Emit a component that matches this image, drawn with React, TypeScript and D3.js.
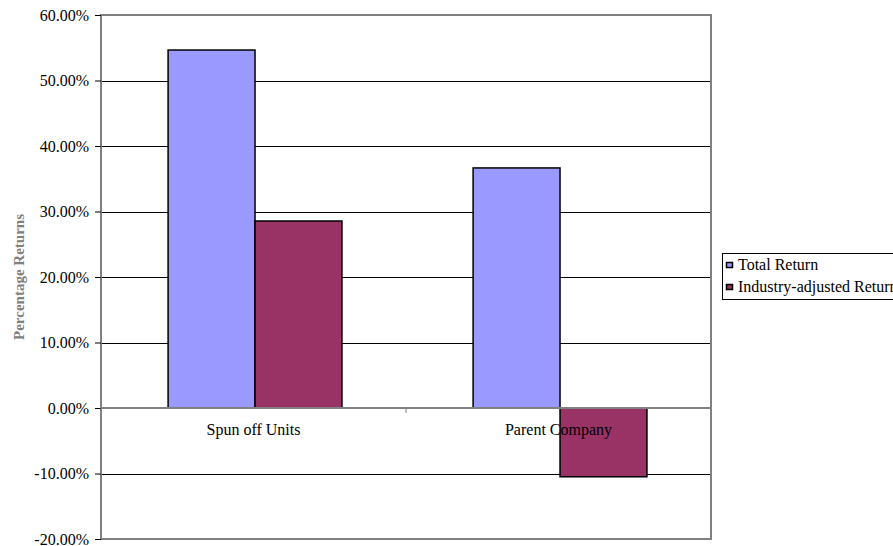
import { useRef, useEffect } from 'react';
import * as d3 from 'd3';

const categories = ['Spun off Units', 'Parent Company'];
const seriesNames = ['Total Return', 'Industry-adjusted Return'];
const totalReturn = [0.5465, 0.3665];
const industryAdjusted = [0.2855, -0.105];
const yTicks = [-0.2, -0.1, 0, 0.1, 0.2, 0.3, 0.4, 0.5, 0.6];
const colors = ['#9999FF', '#993366'];

const FONT = "'Liberation Serif', 'Times New Roman', Times, 'DejaVu Serif', serif";

export default function App() {
  const svgRef = useRef<SVGSVGElement>(null);

  useEffect(() => {
    if (!svgRef.current) return;
    const svg = d3.select(svgRef.current);
    svg.selectAll('*').remove();

    const width = 893;
    const height = 546;
    const margin = { top: 15, right: 182, bottom: 7, left: 101 };
    const w = width - margin.left - margin.right;
    const h = height - margin.top - margin.bottom;

    const g = svg.append('g').attr('transform', `translate(${margin.left},${margin.top})`);

    const x0 = d3.scaleBand().domain(categories).range([0, w]);
    const x1 = d3.scaleBand().domain(seriesNames).range([x0.bandwidth() * 0.22, x0.bandwidth() * 0.79]);
    const y = d3.scaleLinear().domain([-0.2, 0.6]).range([h, 0]);

    // gridlines
    g.append('g')
      .selectAll('line')
      .data(yTicks.filter((t) => t !== 0.6 && t !== -0.2))
      .join('line')
      .attr('x1', 0)
      .attr('x2', w)
      .attr('y1', (d) => Math.round(y(d)) + 0.5)
      .attr('y2', (d) => Math.round(y(d)) + 0.5)
      .attr('stroke', '#000')
      .attr('stroke-width', 1);

    // plot border
    g.append('rect')
      .attr('x', 0)
      .attr('y', 0)
      .attr('width', w)
      .attr('height', h)
      .attr('fill', 'none')
      .attr('stroke', '#808080')
      .attr('stroke-width', 2);

    const rows = categories.map((c, i) => ({ c, vals: [totalReturn[i], industryAdjusted[i]] }));

    g.append('g')
      .selectAll('g')
      .data(rows)
      .join('g')
      .attr('transform', (d) => `translate(${x0(d.c)},0)`)
      .selectAll('rect')
      .data((d) => d.vals.map((v, k) => ({ v, k })))
      .join('rect')
      .attr('x', (d) => x1(seriesNames[d.k]) ?? 0)
      .attr('width', x1.bandwidth())
      .attr('y', (d) => y(Math.max(0, d.v)))
      .attr('height', (d) => Math.abs(y(d.v) - y(0)))
      .attr('fill', (d) => colors[d.k])
      .attr('stroke', '#000')
      .attr('stroke-width', 1.5);

    // y axis
    g.append('g')
      .attr('font-family', FONT)
      .call(d3.axisLeft(y).tickValues(yTicks).tickFormat((d) => `${((d as number) * 100).toFixed(2)}%`).tickSize(6).tickPadding(6))
      .call((a) => a.select('.domain').remove())
      .call((a) => a.selectAll('line').attr('stroke', '#000'))
      .call((a) => a.selectAll('text').attr('fill', '#000').attr('font-family', FONT).attr('font-size', 16));

    // x axis at zero
    const xa = g.append('g').attr('transform', `translate(0,${y(0)})`);
    xa.append('line').attr('x1', 0).attr('x2', w).attr('stroke', '#808080').attr('stroke-width', 2);
    xa.selectAll('.tick')
      .data([0, w / 2, w])
      .join('line')
      .attr('x1', (d) => d)
      .attr('x2', (d) => d)
      .attr('y1', 0)
      .attr('y2', 5)
      .attr('stroke', '#808080');
    xa.selectAll('text')
      .data(categories)
      .join('text')
      .attr('x', (d) => (x0(d) ?? 0) + x0.bandwidth() / 2)
      .attr('y', 27)
      .attr('text-anchor', 'middle')
      .attr('font-family', FONT)
      .attr('font-size', 16)
      .text((d) => d);

    // y axis title
    svg.append('text')
      .attr('transform', `translate(24,${margin.top + y(0.2)}) rotate(-90)`)
      .attr('text-anchor', 'middle')
      .attr('fill', '#808080')
      .attr('font-family', FONT)
      .attr('font-size', 15)
      .attr('font-weight', 'bold')
      .text('Percentage Returns');

    // legend
    const lg = svg.append('g').attr('transform', 'translate(722,253)');
    lg.append('rect')
      .attr('x', 0.5)
      .attr('y', 0.5)
      .attr('width', 200)
      .attr('height', 46)
      .attr('fill', '#fff')
      .attr('stroke', '#000');
    seriesNames.forEach((s, i) => {
      const yy = 12 + i * 22;
      lg.append('rect')
        .attr('x', 4.5)
        .attr('y', yy - 2.5)
        .attr('width', 6)
        .attr('height', 5)
        .attr('fill', colors[i])
        .attr('stroke', '#000')
        .attr('stroke-width', 1.5);
      lg.append('text')
        .attr('x', 16)
        .attr('y', yy + 5)
        .attr('font-family', FONT)
        .attr('font-size', 16)
        .text(s);
    });
  }, []);

  return (
    <svg
      ref={svgRef}
      width={893}
      height={546}
      style={{ position: 'absolute', left: 0, top: 0, background: '#fff' }}
    />
  );
}
